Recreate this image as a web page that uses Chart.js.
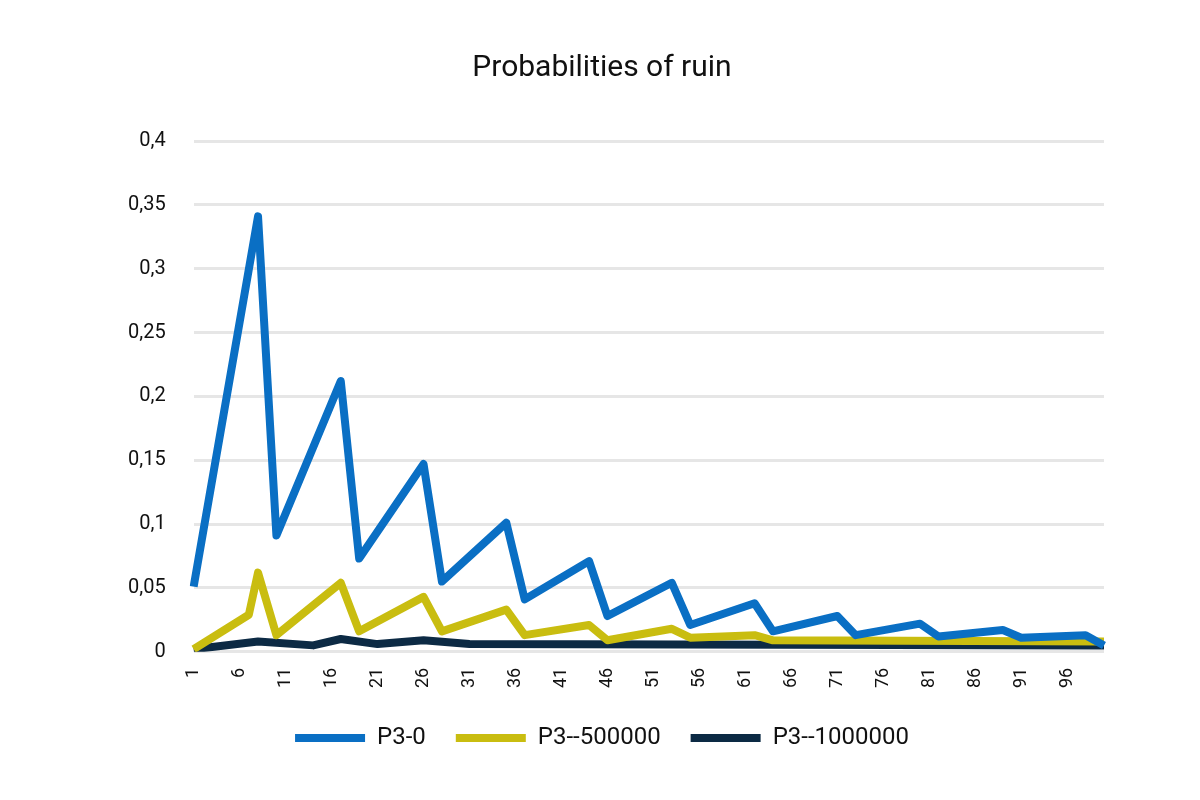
<!DOCTYPE html>
<html>
<head>
<meta charset="utf-8">
<script src="https://cdn.jsdelivr.net/npm/chart.js@4"></script>
<style>
  body { margin: 0; background: #fff; }
  #wrap { width: 1200px; height: 800px; }
</style>
</head>
<body>
<div id="wrap"><canvas id="ruinChart"></canvas></div>
<script>
// x categories 1..100
const periods = Array.from({ length: 100 }, (_, i) => i + 1);

// [period, value] at the corners of each line; the library joins them
const p3zeroPts = [[1,0.051],[8,0.341],[10,0.091],[17,0.212],[19,0.073],[26,0.147],[28,0.055],[35,0.101],[37,0.041],
  [44,0.071],[46,0.028],[53,0.054],[55,0.021],[62,0.038],[64,0.016],[71,0.028],[73,0.013],[80,0.022],[82,0.012],
  [89,0.017],[91,0.011],[98,0.013],[100,0.005]];
const p3halfPts = [[1,0.002],[7,0.029],[8,0.062],[10,0.013],[17,0.054],[19,0.016],[26,0.043],[28,0.016],[35,0.033],
  [37,0.013],[44,0.021],[46,0.009],[53,0.018],[55,0.011],[62,0.013],[64,0.009],[100,0.008]];
const p3millionPts = [[1,0.002],[8,0.008],[14,0.005],[17,0.010],[21,0.006],[26,0.009],[31,0.006],[100,0.005]];

function toSeries(pts) {
  const arr = periods.map(() => null);
  pts.forEach(([p, v]) => { arr[p - 1] = v; });
  return arr;
}

const ctx = document.getElementById('ruinChart').getContext('2d');
const font = "'Roboto', 'DejaVu Sans', sans-serif";

function makeSet(label, pts, color) {
  return {
    label: label,
    data: toSeries(pts),
    borderColor: color,
    backgroundColor: color,
    borderWidth: 8,
    pointRadius: 0,
    pointStyle: 'line',
    spanGaps: true,
    tension: 0,
    borderJoinStyle: 'round'
  };
}

new Chart(ctx, {
  type: 'line',
  data: {
    labels: periods,
    datasets: [
      makeSet('P3-0', p3zeroPts, '#0a6fc4'),
      makeSet('P3--500000', p3halfPts, '#c9bd10'),
      makeSet('P3--1000000', p3millionPts, '#0c2a44')
    ]
  },
  options: {
    responsive: true,
    maintainAspectRatio: false,
    animation: false,
    layout: { padding: { left: 100, right: 96, top: 40, bottom: 40 } },
    plugins: {
      title: {
        display: true,
        text: 'Probabilities of ruin',
        color: '#111',
        font: { family: font, size: 30, weight: 'normal' },
        padding: { top: 10, bottom: 55 }
      },
      legend: {
        position: 'bottom',
        labels: {
          color: '#111',
          font: { family: font, size: 24 },
          usePointStyle: true,
          pointStyleWidth: 70,
          padding: 30
        }
      },
      tooltip: { enabled: false }
    },
    scales: {
      x: {
        grid: { display: false },
        border: { display: false },
        ticks: {
          autoSkip: false,
          maxRotation: 90,
          minRotation: 90,
          padding: 8,
          color: '#111',
          font: { family: font, size: 18 },
          callback: function (val, idx) { return idx % 5 === 0 ? this.getLabelForValue(val) : ''; }
        }
      },
      y: {
        min: 0,
        max: 0.4,
        border: { display: false },
        grid: { color: '#e6e6e6', lineWidth: 3, drawTicks: false },
        ticks: {
          stepSize: 0.05,
          padding: 28,
          color: '#111',
          font: { family: font, size: 20 },
          callback: v => String(Math.round(v * 100) / 100).replace('.', ',')
        }
      }
    }
  }
});
</script>
</body>
</html>
